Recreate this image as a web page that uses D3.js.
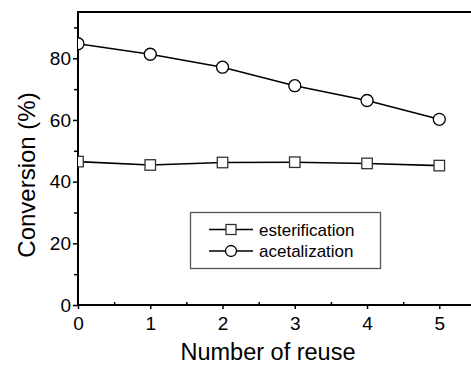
<!DOCTYPE html>
<html><head><meta charset="utf-8">
<script src="https://cdn.jsdelivr.net/npm/d3@7/dist/d3.min.js"></script>
<style>body{margin:0;background:#fff}svg{display:block}text{font-family:"Liberation Sans",Arial,sans-serif;fill:#000}</style>
</head><body><svg id="c" width="471" height="366"></svg>
<script>
const reuse = [0, 1, 2, 3, 4, 5];
const esterification = [46.5, 45.4, 46.2, 46.3, 45.9, 45.2];
const acetalization = [84.7, 81.3, 77.1, 71.1, 66.3, 60.2];
const xTicks = [0, 1, 2, 3, 4, 5];
const yTicks = [0, 20, 40, 60, 80];
const seriesNames = ["esterification", "acetalization"];

const W = 471, H = 366;
const L = 78, T = 12, B = 305;
const svg = d3.select("#c");
const x = d3.scaleLinear().domain([0, 5]).range([L, 439.3]);
const y = d3.scaleLinear().domain([0, 95]).range([B, T]);

svg.append("defs").append("clipPath").attr("id", "pc")
  .append("rect").attr("x", L).attr("y", 0).attr("width", W - L).attr("height", B);

// frame top
svg.append("line").attr("x1", L).attr("x2", W).attr("y1", T).attr("y2", T)
  .attr("stroke", "#000").attr("stroke-width", 2);

// y axis
const yAxis = d3.axisLeft(y).tickValues(yTicks).tickSize(5).tickPadding(2).tickFormat(d3.format("d"));
const gy = svg.append("g").attr("transform", `translate(${L},0)`).call(yAxis);
gy.select(".domain").remove();
gy.selectAll(".tick line").attr("stroke-width", 1.5);
gy.selectAll("text").attr("font-size", 19);
svg.append("g").attr("transform", `translate(${L},0)`)
  .call(d3.axisLeft(y).tickValues([10, 30, 50, 70, 90]).tickSize(4).tickFormat(""))
  .call(g => { g.select(".domain").remove(); g.selectAll("line").attr("stroke-width", 1.5); });
svg.append("line").attr("x1", L).attr("x2", L).attr("y1", T - 1).attr("y2", B + 1)
  .attr("stroke", "#000").attr("stroke-width", 2);

// x axis
const xAxis = d3.axisBottom(x).tickValues(xTicks).tickSize(4).tickPadding(8).tickFormat(d3.format("d"));
const gx = svg.append("g").attr("transform", `translate(0,${B})`).call(xAxis);
gx.select(".domain").remove();
gx.selectAll(".tick line").attr("stroke-width", 1.5);
gx.selectAll("text").attr("font-size", 19);
svg.append("g").attr("transform", `translate(0,${B})`)
  .call(d3.axisTop(x).tickValues([0.5, 1.5, 2.5, 3.5, 4.5]).tickSize(3).tickFormat(""))
  .call(g => { g.select(".domain").remove(); g.selectAll("line").attr("stroke-width", 1.5); });
svg.append("line").attr("x1", L - 1).attr("x2", W).attr("y1", B).attr("y2", B)
  .attr("stroke", "#000").attr("stroke-width", 2);

// titles
svg.append("text").attr("x", 268).attr("y", 360).attr("text-anchor", "middle")
  .attr("font-size", 23.5).text("Number of reuse");
svg.append("text").attr("transform", "translate(35,175) rotate(-90)").attr("text-anchor", "middle")
  .attr("font-size", 24).text("Conversion (%)");

// data
const plot = svg.append("g").attr("clip-path", "url(#pc)");
const line = d3.line().x((d, i) => x(reuse[i])).y(d => y(d));
[esterification, acetalization].forEach(s => {
  plot.append("path").datum(s).attr("d", line).attr("fill", "none")
    .attr("stroke", "#000").attr("stroke-width", 1.6);
});
const sq = 10.5;
plot.selectAll(".sq").data(esterification).enter().append("rect")
  .attr("x", (d, i) => x(reuse[i]) - sq / 2).attr("y", d => y(d) - sq / 2)
  .attr("width", sq).attr("height", sq).attr("fill", "#fff").attr("stroke", "#333").attr("stroke-width", 1.3);
plot.selectAll(".ci").data(acetalization).enter().append("circle")
  .attr("cx", (d, i) => x(reuse[i])).attr("cy", d => y(d)).attr("r", 6)
  .attr("fill", "#fff").attr("stroke", "#000").attr("stroke-width", 1.3);

// legend
const lg = svg.append("g");
lg.append("rect").attr("x", 190.5).attr("y", 212.5).attr("width", 190).attr("height", 56)
  .attr("fill", "#fff").attr("stroke", "#555").attr("stroke-width", 1.3);
const rows = [229.5, 251];
seriesNames.forEach((n, i) => {
  const yy = rows[i];
  lg.append("line").attr("x1", 209).attr("x2", 253).attr("y1", yy).attr("y2", yy)
    .attr("stroke", "#000").attr("stroke-width", 1.6);
  if (i === 0) {
    lg.append("rect").attr("x", 231 - 5).attr("y", yy - 5).attr("width", 10).attr("height", 10)
      .attr("fill", "#fff").attr("stroke", "#333").attr("stroke-width", 1.3);
  } else {
    lg.append("circle").attr("cx", 231).attr("cy", yy).attr("r", 5.5)
      .attr("fill", "#fff").attr("stroke", "#000").attr("stroke-width", 1.3);
  }
  lg.append("text").attr("x", 259).attr("y", yy + 6).attr("font-size", 17).text(n);
});
</script></body></html>
